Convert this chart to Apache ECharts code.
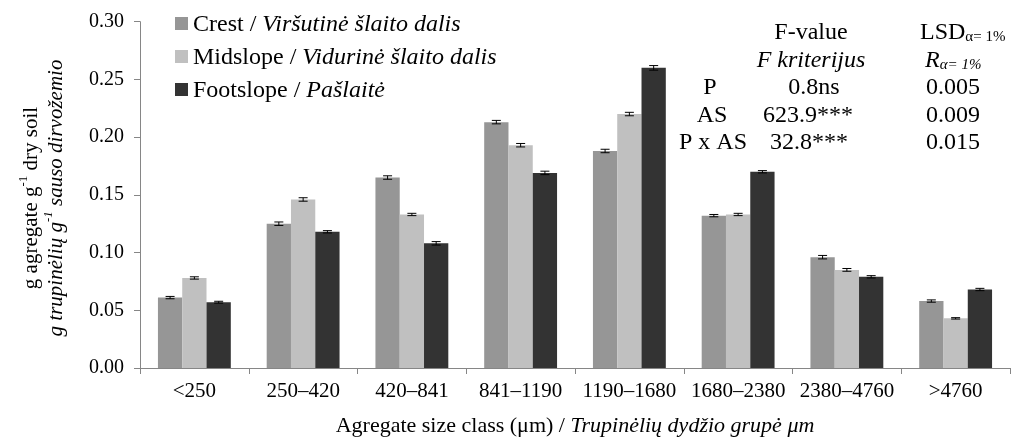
<!DOCTYPE html>
<html>
<head>
<meta charset="utf-8">
<script src="https://cdn.jsdelivr.net/npm/echarts@6/dist/echarts.min.js"></script>
<style>
html,body{margin:0;padding:0;background:#fff;}
#chart{width:1011px;height:442px;}
</style>
</head>
<body>
<div id="chart"></div>
<script>
// ---- data ----
const categories = ['<250', '250–420', '420–841', '841–1190', '1190–1680', '1680–2380', '2380–4760', '>4760'];
const seriesNames = ['Crest', 'Midslope', 'Footslope'];
const seriesNamesLt = ['Viršutinė šlaito dalis', 'Vidurinė šlaito dalis', 'Pašlaitė'];
const crest = [0.061, 0.125, 0.165, 0.213, 0.188, 0.132, 0.096, 0.058];
const midslope = [0.078, 0.146, 0.133, 0.193, 0.220, 0.133, 0.085, 0.043];
const footslope = [0.057, 0.118, 0.108, 0.169, 0.260, 0.170, 0.079, 0.068];
const crestErr = [0.001, 0.0015, 0.0015, 0.0015, 0.0015, 0.001, 0.0015, 0.001];
const midslopeErr = [0.001, 0.0015, 0.001, 0.0015, 0.0015, 0.001, 0.0012, 0.0006];
const footslopeErr = [0.0008, 0.001, 0.0015, 0.0015, 0.002, 0.001, 0.001, 0.001];
const yTicks = { min: 0, max: 0.30, interval: 0.05 };
const statLabels = ['P', 'AS', 'P x AS'];
const fValues = ['0.8ns', '623.9***', '32.8***'];
const lsdValues = ['0.005', '0.009', '0.015'];

// ---- styling ----
const FONT = "'Liberation Serif', 'Times New Roman', serif";
const colors = ['#969696', '#c0c0c0', '#333333'];
const axisColor = '#868686';
const GAP = 0.33;

const values = [crest, midslope, footslope];
const errs = [crestErr, midslopeErr, footslopeErr];

function errRender(idx) {
  return function (params, api) {
    const ci = api.value(0), v = api.value(1), e = api.value(2);
    const catW = api.size([1, 0])[0];
    const barW = catW * (1 - GAP) / 3;
    const xc = api.coord([ci, 0])[0] + (idx - 1) * barW;
    const yHi = api.coord([ci, v + e])[1];
    const yLo = api.coord([ci, v - e])[1];
    const hw = 4.5;
    const st = { stroke: '#000', lineWidth: 1 };
    return {
      type: 'group',
      children: [
        { type: 'line', shape: { x1: xc, y1: yHi, x2: xc, y2: yLo }, style: st },
        { type: 'line', shape: { x1: xc - hw, y1: yHi, x2: xc + hw, y2: yHi }, style: st },
        { type: 'line', shape: { x1: xc - hw, y1: yLo, x2: xc + hw, y2: yLo }, style: st }
      ]
    };
  };
}

const series = [];
for (let i = 0; i < 3; i++) {
  series.push({
    name: seriesNames[i],
    type: 'bar',
    data: values[i],
    itemStyle: { color: colors[i] },
    barGap: '0%',
    barCategoryGap: (GAP * 100) + '%',
    silent: true
  });
}
for (let i = 0; i < 3; i++) {
  series.push({
    name: seriesNames[i] + ' error',
    type: 'custom',
    renderItem: errRender(i),
    data: values[i].map((v, k) => [k, v, errs[i][k]]),
    encode: { x: 0, y: 1 },
    z: 5,
    silent: true
  });
}

function mkRich(fs, small, lh) {
  return {
    n: { fontFamily: FONT, fontSize: fs, color: '#000', lineHeight: lh, verticalAlign: 'bottom' },
    i: { fontFamily: FONT, fontSize: fs, color: '#000', fontStyle: 'italic', lineHeight: lh, verticalAlign: 'bottom' },
    sup: { fontFamily: FONT, fontSize: small, color: '#000', lineHeight: small + 1, verticalAlign: 'top' },
    supi: { fontFamily: FONT, fontSize: small, color: '#000', fontStyle: 'italic', lineHeight: small + 1, verticalAlign: 'top' },
    sub: { fontFamily: FONT, fontSize: small, color: '#000', lineHeight: small + 1, verticalAlign: 'bottom' },
    subi: { fontFamily: FONT, fontSize: small, color: '#000', fontStyle: 'italic', lineHeight: small + 1, verticalAlign: 'bottom' }
  };
}
const richTable = mkRich(24, 15, 28);
const richLegend = mkRich(24, 15, 27);
const richYTitle = mkRich(21, 13, 25);
const richXTitle = mkRich(22, 14, 26);

function txt(text, x, y, align) {
  return {
    type: 'text', x: x, y: y, silent: true,
    style: { text: text, rich: richTable, align: align || 'center', verticalAlign: 'middle', fill: '#000' }
  };
}

const graphics = [
  // y-axis title
  {
    type: 'text', x: 42, y: 198, rotation: Math.PI / 2, silent: true,
    style: {
      text: '{n|g agregate g}{sup|-1}{n| dry soil}\n{i|g trupinėlių g}{supi|-1}{i| sauso dirvožemio}',
      rich: richYTitle, align: 'center', verticalAlign: 'middle'
    }
  },
  txt('{n|F-value}', 811, 31),
  txt('{n|LSD}{sub|α= 1%}', 920, 31, 'left'),
  txt('{i|F kriterijus}', 811, 58.5),
  txt('{i|R}{subi|α= 1%}', 925, 58.5, 'left')
];
const rowY = [86, 113.5, 141];
const labelX = [710, 712, 713];
const fX = [814, 808, 809];
for (let r = 0; r < 3; r++) {
  graphics.push(txt('{n|' + statLabels[r] + '}', labelX[r], rowY[r]));
  graphics.push(txt('{n|' + fValues[r] + '}', fX[r], rowY[r]));
  graphics.push(txt('{n|' + lsdValues[r] + '}', 953, rowY[r]));
}

const option = {
  animation: false,
  backgroundColor: '#fff',
  textStyle: { fontFamily: FONT },
  grid: { left: 140, right: 1, top: 21.7, bottom: 67.5, containLabel: false },
  legend: {
    data: seriesNames,
    orient: 'vertical',
    left: 175,
    top: 10,
    padding: 0,
    itemGap: 6,
    itemWidth: 13,
    itemHeight: 13,
    icon: 'rect',
    selectedMode: false,
    formatter: function (name) {
      const k = seriesNames.indexOf(name);
      return '{n|' + name + ' / }{i|' + seriesNamesLt[k] + '}';
    },
    textStyle: { rich: richLegend, fontFamily: FONT, fontSize: 24, color: '#000', lineHeight: 27 }
  },
  xAxis: {
    type: 'category',
    data: categories,
    axisLine: { lineStyle: { color: axisColor, width: 1 } },
    axisTick: { show: true, length: 6, lineStyle: { color: axisColor } },
    axisLabel: { color: '#000', fontFamily: FONT, fontSize: 21, margin: 13, interval: 0 },
    name: '{n|Agregate size class (μm) / }{i|Trupinėlių dydžio grupė μm}',
    nameLocation: 'middle',
    nameGap: 43,
    nameTextStyle: { rich: richXTitle, fontFamily: FONT, fontSize: 22, color: '#000', verticalAlign: 'top' }
  },
  yAxis: {
    type: 'value',
    min: yTicks.min,
    max: yTicks.max,
    interval: yTicks.interval,
    axisLine: { show: true, lineStyle: { color: axisColor, width: 1 } },
    axisTick: { show: true, length: 6, lineStyle: { color: axisColor } },
    splitLine: { show: false },
    axisLabel: { color: '#000', fontFamily: FONT, fontSize: 20, margin: 16, formatter: v => v.toFixed(2) }
  },
  graphic: graphics,
  series: series
};

const chart = echarts.init(document.getElementById('chart'), null, { renderer: 'canvas' });
chart.setOption(option);
</script>
</body>
</html>
